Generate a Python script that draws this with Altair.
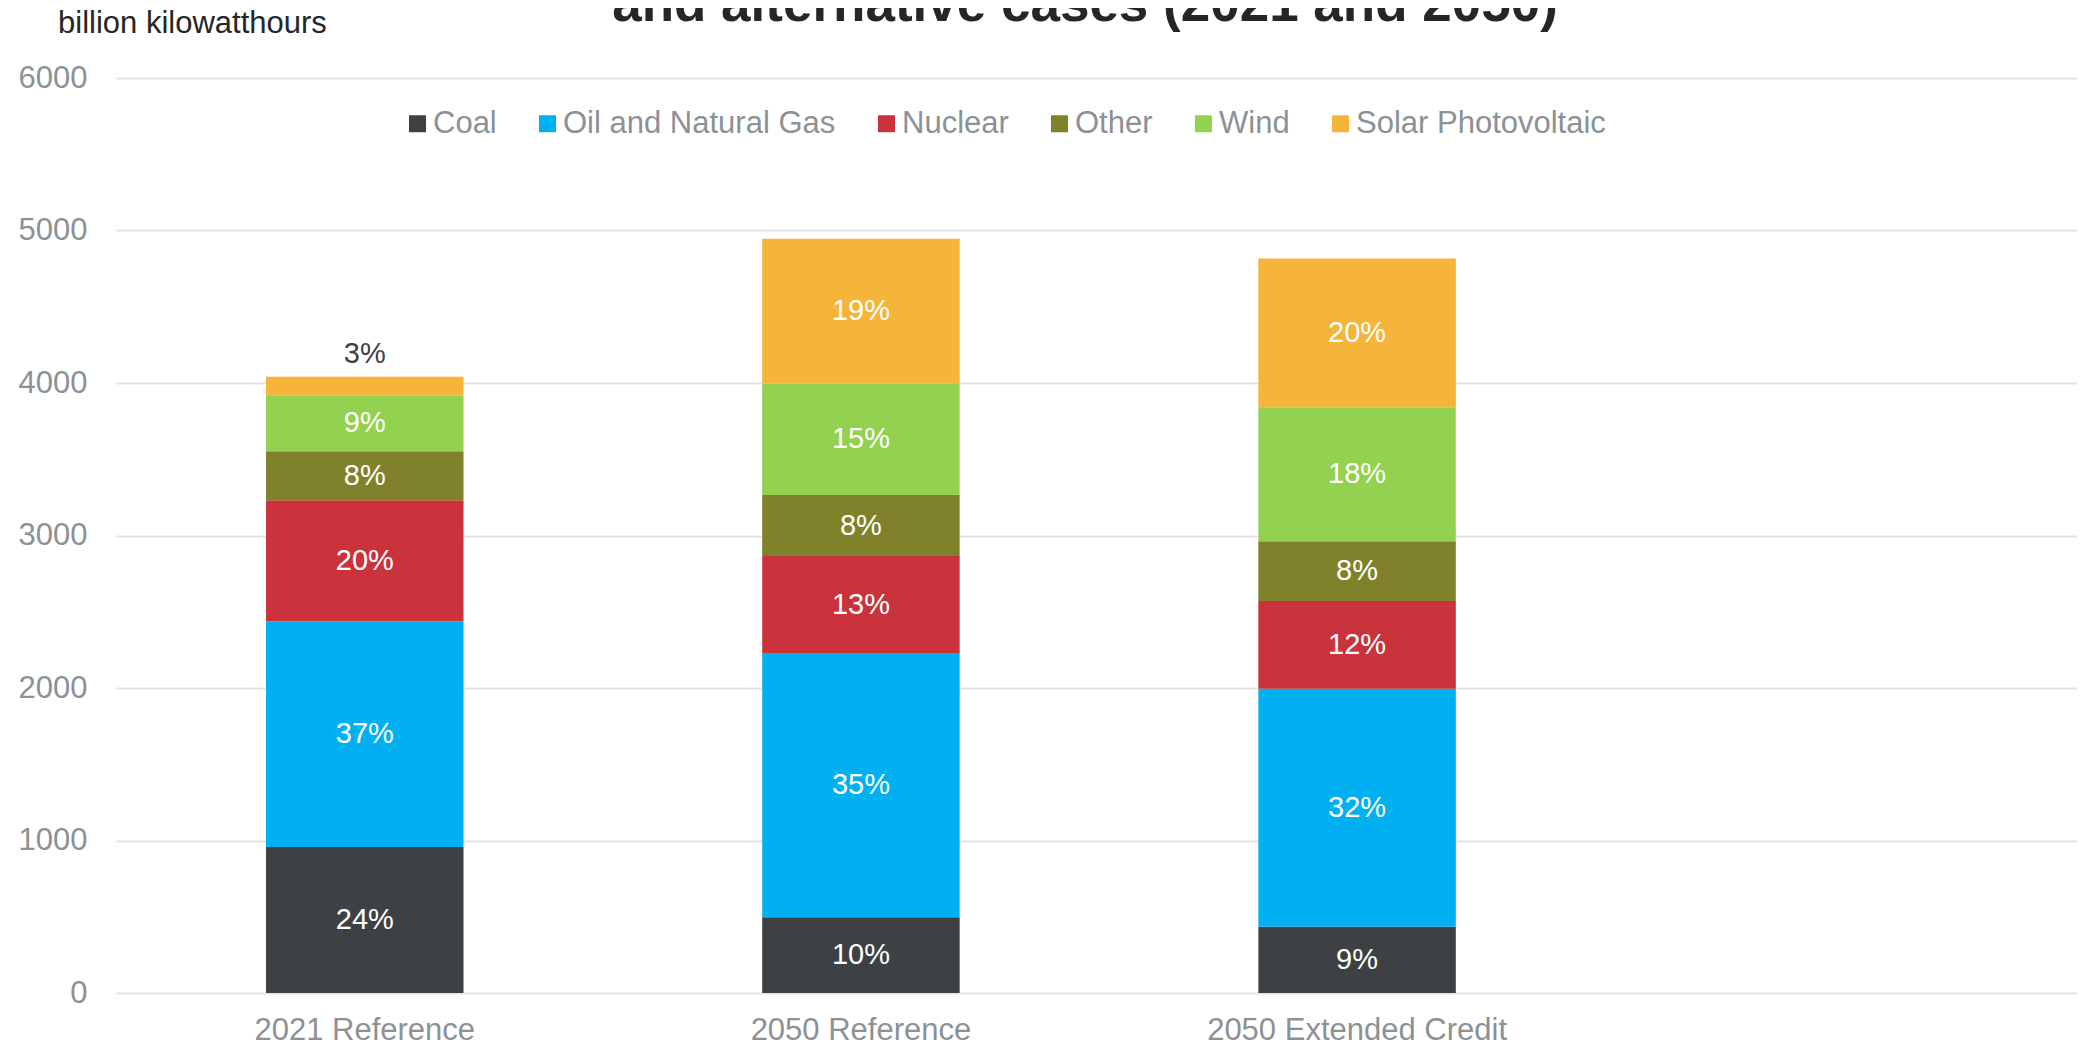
import altair as alt
import pandas as pd

cases = ["2021 Reference", "2050 Reference", "2050 Extended Credit"]
pad_case = "_pad"
fuels = ["Coal", "Oil and Natural Gas", "Nuclear", "Other", "Wind", "Solar Photovoltaic"]
colors = ["#3e4143", "#00b0f0", "#ca333b", "#7f822a", "#93d150", "#f5b43a"]

# billion kilowatthours, by fuel, for each case
coal = [958, 496, 435]
oil_gas = [1480, 1733, 1560]
nuclear = [793, 636, 575]
other = [322, 401, 392]
wind = [366, 731, 879]
solar = [122, 949, 976]

series = [coal, oil_gas, nuclear, other, wind, solar]
y_ticks = [0, 1000, 2000, 3000, 4000, 5000, 6000]
unit_label = "billion kilowatthours"
title_line = "and alternative cases (2021 and 2050)"

rows = []
for ci, case in enumerate(cases):
    total = sum(s[ci] for s in series)
    base = 0
    for fi, fuel in enumerate(fuels):
        v = series[fi][ci]
        pct = round(v / total * 100)
        rows.append({
            "case": case, "fuel": fuel, "order": fi, "value": v,
            "mid": base + v / 2, "top": base + v,
            "label": f"{pct}%", "pct": pct,
        })
        base += v
df = pd.DataFrame(rows)

grey = "#8c9195"
FONT = "Liberation Sans"
x_domain = cases + [pad_case]

x_scale = alt.Scale(domain=x_domain, paddingInner=0.602, paddingOuter=0.3024, range=[0, 1986])
x_enc = alt.X("case:N", title=None, scale=x_scale,
              axis=alt.Axis(labelAngle=0, labelFontSize=31, labelColor=grey, labelFont=FONT,
                            domain=False, ticks=False, tickSize=0, labelPadding=22,
                            labelBaseline="top", labelLimit=0,
                            labelExpr="datum.value == '_pad' ? '' : datum.value"))
y_scale = alt.Scale(domain=[0, 6000], nice=False)

bars = alt.Chart(df).mark_bar(stroke=None).encode(
    x=x_enc,
    y=alt.Y("value:Q", stack="zero", scale=y_scale, title=None,
            axis=alt.Axis(values=y_ticks, labelFontSize=31, labelColor=grey, labelFont=FONT,
                          domain=False, ticks=False, tickSize=0, labelPadding=29,
                          gridColor="#e3e3e3", gridWidth=2, format="d")),
    color=alt.Color("fuel:N", sort=fuels,
                    scale=alt.Scale(domain=fuels, range=colors),
                    legend=alt.Legend(title=None, orient="none", legendX=286, legendY=30,
                                      direction="horizontal", symbolType="square",
                                      symbolSize=289, symbolStrokeWidth=0,
                                      labelFontSize=31, labelColor=grey, labelFont=FONT,
                                      labelOffset=0, columnPadding=35, padding=0,
                                      labelLimit=0, symbolOpacity=1)),
    order=alt.Order("order:Q", sort="ascending"),
)

inside = alt.Chart(df).transform_filter("datum.pct >= 5").mark_text(
    color="white", fontSize=29, font=FONT, baseline="middle", align="center"
).encode(
    x=alt.X("case:N", scale=x_scale),
    y=alt.Y("mid:Q", scale=y_scale),
    text="label:N",
)

above = alt.Chart(df).transform_filter("datum.pct < 5").mark_text(
    color="#404040", fontSize=29, font=FONT, baseline="alphabetic", align="center", dy=-14
).encode(
    x=alt.X("case:N", scale=x_scale),
    y=alt.Y("top:Q", scale=y_scale),
    text="label:N",
)

title_df = pd.DataFrame({"t": [title_line]})
title = alt.Chart(title_df).mark_text(
    fontSize=53, fontWeight="bold", font=FONT, color="#262626",
    align="center", baseline="alphabetic"
).encode(x=alt.value(969), y=alt.value(-57), text="t:N")

unit_df = pd.DataFrame({"t": [unit_label]})
unit = alt.Chart(unit_df).mark_text(
    fontSize=31, font=FONT, color="#262626", align="left", baseline="alphabetic"
).encode(x=alt.value(-58), y=alt.value(-45), text="t:N")

chart = alt.layer(bars, inside, above, title, unit).properties(
    width=1961, height=915,
    autosize=alt.AutoSizeParams(type="none"),
    padding={"left": 108, "top": 70, "right": 0, "bottom": 52},
).configure(background="white").configure_view(stroke=None)

chart.save("out.html", embed_options={"renderer": "svg", "actions": False})
